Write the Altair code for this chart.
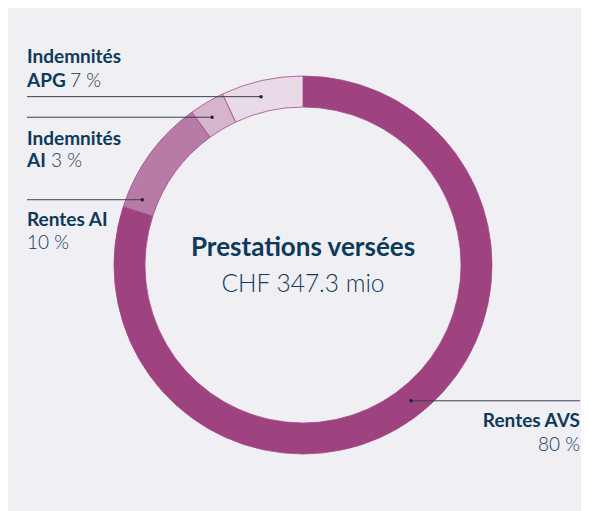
import math
import altair as alt
import pandas as pd

# ---- data ----
categories = ["Rentes AVS", "Rentes AI", "Indemnités AI", "Indemnités APG"]
shares = [80, 10, 3, 7]
colors = ["#9e4280", "#b87ba7", "#d6b4cc", "#e9dae8"]
center_title = "Prestations versées"
center_value = "CHF 347.3 mio"
label_bold_1 = ["Indemnités", "Indemnités", "Rentes AI", "Rentes AVS"]
label_bold_2 = ["APG", "AI", "", ""]
label_pct = ["7 %", "3 %", "10 %", "80 %"]
label_cat = ["Indemnités APG", "Indemnités AI", "Rentes AI", "Rentes AVS"]

# ---- layout ----
W, H = 573, 503
CX, CY = 295, 257
R_OUT, R_IN = 189, 158
R_MID = (R_OUT + R_IN) / 2
NAVY = "#0d3a5a"
NAVY_LIGHT = "#123a5c"
LINE = "#3b3f52"
FONT = "Lato"
# angle on the ring (deg, clockwise from 12 o'clock) where each leader meets it
anchor_deg = {"Indemnités APG": 346.0, "Indemnités AI": 328.4,
              "Rentes AI": 292.1, "Rentes AVS": 141.5}
LEFT_X, RIGHT_X = 19, 572

xs = alt.Scale(domain=[0, W], nice=False, zero=False)
ys = alt.Scale(domain=[0, H], nice=False, zero=False, reverse=True)

df = pd.DataFrame({"cat": categories, "share": shares, "order": list(range(len(categories)))})

arc = alt.Chart(df).mark_arc(
    outerRadius=R_OUT, innerRadius=R_IN, stroke="#a34a85", strokeWidth=0.8
).encode(
    theta=alt.Theta("share:Q", stack=True),
    order=alt.Order("order:Q"),
    color=alt.Color("cat:N", scale=alt.Scale(domain=categories, range=colors), legend=None),
    x=alt.value(CX),
    y=alt.value(CY),
)

rows = []
for c in label_cat:
    a = math.radians(anchor_deg[c])
    px = CX + R_MID * math.sin(a)
    py = CY - R_MID * math.cos(a)
    if px < CX:
        rows.append({"cat": c, "x1": LEFT_X, "x2": px, "y": py, "px": px})
    else:
        rows.append({"cat": c, "x1": px, "x2": RIGHT_X, "y": py, "px": px})
lead = pd.DataFrame(rows)

rules = alt.Chart(lead).mark_rule(color=LINE, strokeWidth=1).encode(
    x=alt.X("x1:Q", scale=xs, axis=None),
    x2="x2:Q",
    y=alt.Y("y:Q", scale=ys, axis=None),
)
dots = alt.Chart(lead).mark_point(filled=True, color="#1f2235", size=12, opacity=1).encode(
    x=alt.X("px:Q", scale=xs, axis=None),
    y=alt.Y("y:Q", scale=ys, axis=None),
)

# text positions (baselines)
left_bold = pd.DataFrame({
    "t": [label_bold_1[0], label_bold_2[0], label_bold_1[1], label_bold_2[1], label_bold_1[2]],
    "x": [LEFT_X, LEFT_X, LEFT_X, LEFT_X, LEFT_X],
    "y": [55, 79, 137, 159, 218],
})
left_light = pd.DataFrame({
    "t": [label_pct[0], label_pct[1], label_pct[2]],
    "x": [62, 43, LEFT_X],
    "y": [79, 159, 241],
})
right_bold = pd.DataFrame({"t": [label_bold_1[3]], "x": [RIGHT_X], "y": [419]})
right_light = pd.DataFrame({"t": [label_pct[3]], "x": [RIGHT_X], "y": [443]})
c_bold = pd.DataFrame({"t": [center_title], "x": [CX], "y": [248]})
c_light = pd.DataFrame({"t": [center_value], "x": [CX], "y": [284]})


def txt(d, align, weight, size, color):
    return alt.Chart(d).mark_text(
        align=align, baseline="alphabetic", font=FONT, fontWeight=weight,
        fontSize=size, color=color
    ).encode(
        x=alt.X("x:Q", scale=xs, axis=None),
        y=alt.Y("y:Q", scale=ys, axis=None),
        text="t:N",
    )


chart = alt.layer(
    arc, rules, dots,
    txt(left_bold, "left", "bold", 19, NAVY),
    txt(left_light, "left", 300, 19, NAVY_LIGHT),
    txt(right_bold, "right", "bold", 19, NAVY),
    txt(right_light, "right", 300, 19, NAVY_LIGHT),
    txt(c_bold, "center", "bold", 26, NAVY),
    txt(c_light, "center", 300, 24.5, NAVY_LIGHT),
).properties(
    width=W, height=H, autosize=alt.AutoSizeParams(type="none"), padding=0,
    background="#f0eff4",
).configure_view(stroke=None)

chart.save("out.html", embed_options={"renderer": "svg", "actions": False})
